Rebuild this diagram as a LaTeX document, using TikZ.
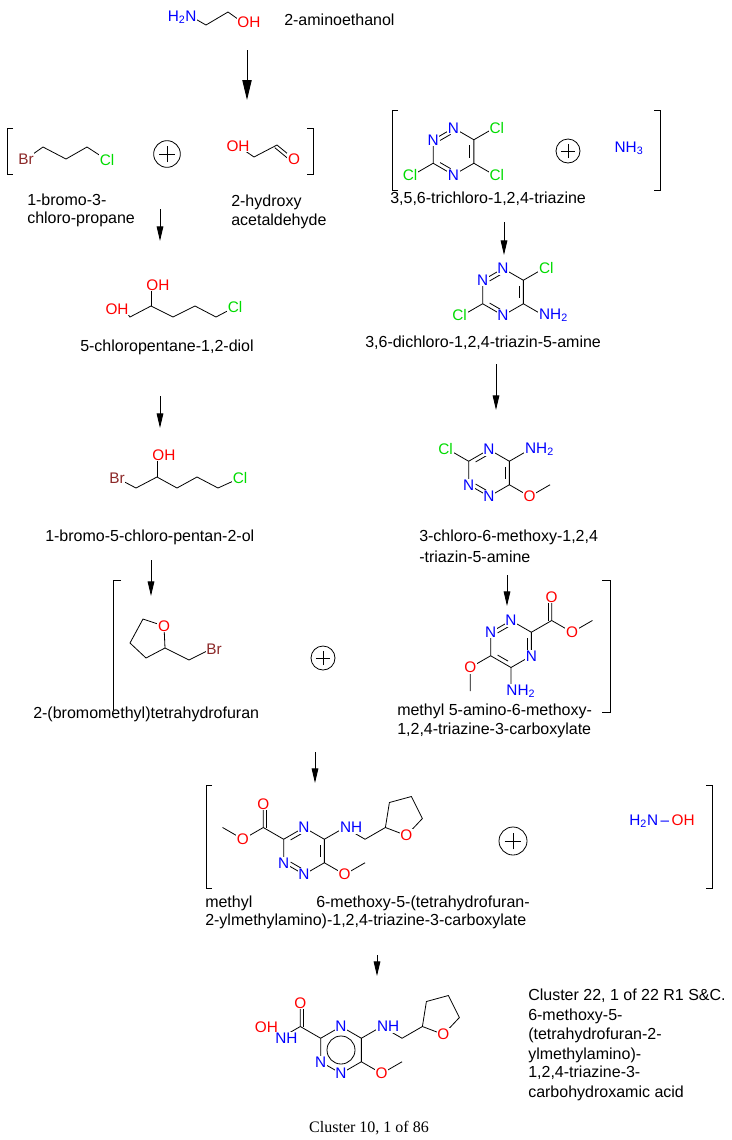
\documentclass[tikz,border=0pt]{standalone}
\usepackage{fontspec}
\setmainfont{Liberation Sans}
\newfontfamily\serifc{Liberation Serif}
\usetikzlibrary{calc,arrows.meta}
\definecolor{nblue}{RGB}{0,0,255}
\definecolor{ored}{RGB}{255,0,0}
\definecolor{clgreen}{RGB}{0,220,0}
\definecolor{brbrown}{RGB}{140,40,40}
\newcommand\hexat[3]{\coordinate (#1c) at (#2,#3);
 \foreach \ii/\ang in {1/-90,2/-30,3/30,4/90,5/150,6/210}{\coordinate (#1\ii) at ($(#1c)+(\ang:23.5)$);}}
\newcommand\dbin[3]{\draw[bond,shorten <=2.5pt,shorten >=2.5pt] ($(#1)!0.2!(#3)$) -- ($(#2)!0.2!(#3)$);}
\newcommand\dbside[2]{\draw[bond] ($(#1)!2.6pt!90:(#2)$) -- ($(#2)!2.6pt!-90:(#1)$);}
\newcommand\hexbonds[1]{\draw[bond] (#11)--(#12)--(#13)--(#14)--(#15)--(#16)--cycle;}
\tikzset{
 bond/.style={line width=0.6pt},
 lab/.style={inner sep=0.6pt,fill=white,font=\fontsize{11.5}{13}\selectfont},
 fst/.style={anchor=west,xshift=-4.2pt},
 lst/.style={anchor=east,xshift=4.2pt},
 Na/.style={lab,text=nblue}, Oa/.style={lab,text=ored},
 Cla/.style={lab,text=clgreen}, Bra/.style={lab,text=brbrown},
 cname/.style={anchor=west,inner sep=0pt,font=\fontsize{12}{14}\selectfont},
 rxn/.style={line width=0.7pt,-{Triangle[length=11pt,width=5pt]}},
 bigrxn/.style={line width=0.7pt,-{Triangle[length=15pt,width=7pt]}},
 brk/.style={line width=0.7pt},
}
\newcommand\oplusat[4]{\node[circle,draw,line width=0.6pt,minimum size=#3,inner sep=0pt] (#4) at (#1,#2) {};
 \draw[line width=0.6pt] ($(#4)+(-0.3*#3,0)$) -- ($(#4)+(0.3*#3,0)$) ($(#4)+(0,-0.3*#3)$) -- ($(#4)+(0,0.3*#3)$);}
\begin{document}
\begin{tikzpicture}[x=0.75pt,y=-0.75pt]
\useasboundingbox (0,0) rectangle (732,1140);
% ---------- 2-aminoethanol
\coordinate (ae1) at (192,17); \coordinate (ae2) at (206,25);
\coordinate (ae3) at (228,12); \coordinate (ae4) at (242,22);
\draw[bond] (ae1)--(ae2)--(ae3)--(ae4);
\node[Na,lst] at (ae1) {H\textsubscript{2}N};
\node[Oa,fst] at (ae4) {OH};
\node[cname] (n1) at (284,20) {2-aminoethanol};
\coordinate (a1s) at (247,50); \coordinate (a1e) at (247,100);
\draw[bigrxn] (a1s) -- (a1e);
% ---------- bracket 1
\draw[brk] (13,128) -- (7,128) -- (7,174) -- (13,174);
\draw[brk] (307,128) -- (313,128) -- (313,174) -- (307,174);
\coordinate (bp0) at (26,159); \coordinate (bp1) at (43,147); \coordinate (bp2) at (66,159);
\coordinate (bp3) at (87,147); \coordinate (bp4) at (107,160);
\draw[bond] (bp0)--(bp1)--(bp2)--(bp3)--(bp4);
\node[Bra] at (bp0) {Br}; \node[Cla] at (bp4) {Cl};
\oplusat{167}{154}{20pt}{op1}
\coordinate (ha0) at (238,146); \coordinate (ha1) at (254,157); \coordinate (ha2) at (277,145); \coordinate (ha3) at (294,159);
\draw[bond] (ha0)--(ha1)--(ha2)--(ha3); \dbside{ha3}{ha2}
\node[Oa] at (ha0) {OH}; \node[Oa] at (ha3) {O};
\node[cname] at (27,200) {1-bromo-3-}; \node[cname] at (27,219) {chloro-propane};
\node[cname] at (231,202) {2-hydroxy}; \node[cname] at (231,221) {acetaldehyde};
\coordinate (a2s) at (160,209); \coordinate (a2e) at (160,241);
\draw[rxn] (a2s) -- (a2e);
% ---------- diol
\coordinate (d0) at (124,309); \coordinate (d1) at (130,317); \coordinate (d2) at (151,306);
\coordinate (d3) at (173,317); \coordinate (d4) at (195,306); \coordinate (d5) at (216,317);
\coordinate (d6) at (235,307); \coordinate (dt) at (151,285);
\draw[bond] (d0)--(d1)--(d2)--(d3)--(d4)--(d5)--(d6); \draw[bond] (d2)--(dt);
\node[Oa,lst] at (d0) {OH}; \node[Oa,fst] at (dt) {OH}; \node[Cla] at (d6) {Cl};
\node[cname] at (80,347) {5-chloropentane-1,2-diol};
\coordinate (a4s) at (160,396); \coordinate (a4e) at (160,428);
\draw[rxn] (a4s) -- (a4e);
% ---------- bromo chloro pentanol
\coordinate (e0) at (117,478); \coordinate (e1) at (136,488); \coordinate (e2) at (157,477);
\coordinate (e3) at (177,488); \coordinate (e4) at (197,477); \coordinate (e5) at (218,488);
\coordinate (e6) at (240,478); \coordinate (et) at (157,455);
\draw[bond] (e0)--(e1)--(e2)--(e3)--(e4)--(e5)--(e6); \draw[bond] (e2)--(et);
\node[Bra] at (e0) {Br}; \node[Cla] at (e6) {Cl}; \node[Oa,fst] at (et) {OH};
\node[cname] at (45,537) {1-bromo-5-chloro-pentan-2-ol};
\coordinate (a6s) at (151,560); \coordinate (a6e) at (151,596);
\draw[rxn] (a6s) -- (a6e);
% ---------- bracket 2
\draw[brk] (398,110) -- (392,110) -- (392,190) -- (398,190);
\draw[brk] (654,110) -- (660,110) -- (660,190) -- (654,190);
\hexat{R}{453.5}{151.5}
\hexbonds{R} \dbin{R4}{R5}{Rc} \dbin{R2}{R3}{Rc} \dbin{R1}{R6}{Rc}
\coordinate (rx2) at ($(R2)+(-30:23.5)$); \coordinate (rx3) at ($(R3)+(30:23.5)$); \coordinate (rx5) at ($(R5)+(150:23.5)$);
\draw[bond] (R2)--(rx2) (R3)--(rx3) (R5)--(rx5);
\node[Na] at (R1) {N}; \node[Na] at (R6) {N}; \node[Na] at (R4) {N};
\node[Cla,fst] at (rx2) {Cl}; \node[Cla,fst] at (rx3) {Cl}; \node[Cla,lst] at (rx5) {Cl};
\oplusat{568}{151}{18pt}{op2}
\node[Na] at (629,148) {NH\textsubscript{3}};
\node[cname] at (390,199) {3,5,6-trichloro-1,2,4-triazine};
\coordinate (a3s) at (504,222); \coordinate (a3e) at (504,255);
\draw[rxn] (a3s) -- (a3e);
% ---------- ring 2
\hexat{S}{503}{292}
\hexbonds{S} \dbin{S4}{S5}{Sc} \dbin{S2}{S3}{Sc} \dbin{S1}{S6}{Sc}
\coordinate (sx2) at ($(S2)+(-30:23.5)$); \coordinate (sx3) at ($(S3)+(30:23.5)$); \coordinate (sx5) at ($(S5)+(150:23.5)$);
\draw[bond] (S2)--(sx2) (S3)--(sx3) (S5)--(sx5);
\node[Na] at (S1) {N}; \node[Na] at (S6) {N}; \node[Na] at (S4) {N};
\node[Cla,fst] at (sx2) {Cl}; \node[Na,fst] at (sx3) {NH\textsubscript{2}}; \node[Cla,lst] at (sx5) {Cl};
\node[cname] at (365,343) {3,6-dichloro-1,2,4-triazin-5-amine};
\coordinate (a5s) at (496,364); \coordinate (a5e) at (496,410);
\draw[rxn] (a5s) -- (a5e);
% ---------- ring 3
\hexat{T}{489}{473}
\hexbonds{T} \dbin{T6}{T1}{Tc} \dbin{T2}{T3}{Tc} \dbin{T4}{T5}{Tc}
\coordinate (tx6) at ($(T6)+(210:23.5)$); \coordinate (tx2) at ($(T2)+(-30:23.5)$);
\coordinate (tx3) at ($(T3)+(30:23.5)$); \coordinate (txm) at ($(tx3)+(-30:23.5)$);
\draw[bond] (T6)--(tx6) (T2)--(tx2) (T3)--(tx3)--(txm);
\node[Na] at (T1) {N}; \node[Na] at (T4) {N}; \node[Na] at (T5) {N};
\node[Cla,lst] at (tx6) {Cl}; \node[Na,fst] at (tx2) {NH\textsubscript{2}}; \node[Oa] at (tx3) {O};
\node[cname] at (419,537) {3-chloro-6-methoxy-1,2,4}; \node[cname] at (419,557) {-triazin-5-amine};
\coordinate (a7s) at (507,575); \coordinate (a7e) at (507,606);
\draw[rxn] (a7s) -- (a7e);
% ---------- bracket 3
\draw[brk] (121,580) -- (113,580) -- (113,710);
\draw[brk] (602,580) -- (610,580) -- (610,712) -- (602,712);
\coordinate (f1) at (143,619); \coordinate (fO) at (164,626); \coordinate (f2) at (165,648);
\coordinate (f3) at (146,658); \coordinate (f4) at (130,643); \coordinate (fch) at (189,660); \coordinate (fbr) at (211,649);
\draw[bond] (f1)--(fO)--(f2)--(f3)--(f4)--cycle; \draw[bond] (f2)--(fch)--(fbr);
\node[Oa] at (fO) {O}; \node[Bra,fst] at (fbr) {Br};
\node[cname] at (33,714) {2-(bromomethyl)tetrahydrofuran};
\oplusat{323}{658}{18pt}{op3}
\hexat{U}{511}{644}
\hexbonds{U} \dbin{U1}{U6}{Uc} \dbin{U2}{U3}{Uc} \dbin{U4}{U5}{Uc}
\coordinate (uc) at ($(U2)+(-30:23.5)$); \coordinate (uo1) at ($(uc)+(-90:23.5)$);
\coordinate (uo2) at ($(uc)+(30:23.5)$); \coordinate (um) at ($(uo2)+(-30:23.5)$);
\coordinate (uo3) at ($(U5)+(150:23.5)$); \coordinate (um2) at ($(uo3)+(90:23.5)$);
\coordinate (un) at ($(U4)+(90:23.5)$);
\draw[bond] (U2)--(uc)--(uo1) (uc)--(uo2)--(um) (U5)--(uo3)--(um2) (U4)--(un);
\dbside{uc}{uo1}
\node[Na] at (U1) {N}; \node[Na] at (U6) {N}; \node[Na] at (U3) {N};
\node[Oa] at (uo1) {O}; \node[Oa] at (uo2) {O}; \node[Oa] at (uo3) {O};
\node[Na,fst] at (un) {NH\textsubscript{2}};
\node[cname] at (397,711) {methyl 5-amino-6-methoxy-}; \node[cname] at (397,730) {1,2,4-triazine-3-carboxylate};
\coordinate (a8s) at (315,752); \coordinate (a8e) at (315,783);
\draw[rxn] (a8s) -- (a8e);
% ---------- bracket 4
\draw[brk] (212,785) -- (206,785) -- (206,888) -- (212,888);
\draw[brk] (706,785) -- (712,785) -- (712,888) -- (706,888);
\hexat{V}{304}{851}
\hexbonds{V} \dbin{V6}{V1}{Vc} \dbin{V2}{V3}{Vc} \dbin{V4}{V5}{Vc}
\coordinate (vc) at ($(V6)+(210:23.5)$); \coordinate (vo1) at ($(vc)+(-90:23.5)$);
\coordinate (vo2) at ($(vc)+(150:23.5)$); \coordinate (vm) at ($(vo2)+(210:23.5)$);
\coordinate (vn) at ($(V2)+(-30:23.5)$); \coordinate (vch) at ($(vn)+(30:23.5)$);
\coordinate (vt) at ($(vch)+(-30:23.5)$);
\coordinate (vt2) at ($(vt)+(4,-25)$); \coordinate (vt3) at ($(vt)+(26,-31)$);
\coordinate (vt4) at ($(vt)+(37,-9)$); \coordinate (vtO) at ($(vt)+(21,8)$);
\coordinate (vo3) at ($(V3)+(30:23.5)$); \coordinate (vm2) at ($(vo3)+(-30:23.5)$);
\draw[bond] (V6)--(vc)--(vo1) (vc)--(vo2)--(vm) (V2)--(vn)--(vch)--(vt) (V3)--(vo3)--(vm2);
\draw[bond] (vt)--(vt2)--(vt3)--(vt4)--(vtO)--cycle;
\dbside{vo1}{vc}
\node[Na] at (V1) {N}; \node[Na] at (V4) {N}; \node[Na] at (V5) {N};
\node[Oa] at (vo1) {O}; \node[Oa] at (vo2) {O}; \node[Oa] at (vo3) {O}; \node[Oa] at (vtO) {O};
\node[Na,fst] at (vn) {NH};
\oplusat{513}{841}{21pt}{op4}
\node[lab,text=nblue] (hy) at (662,821) {H\textsubscript{2}N\,\textendash\,\textcolor{ored}{OH}};
\node[cname] at (205,903) {methyl}; \node[cname] at (316,903) {6-methoxy-5-(tetrahydrofuran-};
\node[cname] at (205,921) {2-ylmethylamino)-1,2,4-triazine-3-carboxylate};
\coordinate (a9s) at (377,955); \coordinate (a9e) at (377,976);
\draw[rxn] (a9s) -- (a9e);
% ---------- product
\hexat{W}{341}{1050}
\hexbonds{W}
\draw[bond] (Wc) circle[radius=14];
\coordinate (wc) at ($(W6)+(210:23.5)$); \coordinate (wo1) at ($(wc)+(-90:23.5)$);
\coordinate (wnh) at ($(wc)+(150:23.5)$);
\coordinate (wn) at ($(W2)+(-30:23.5)$); \coordinate (wch) at ($(wn)+(30:23.5)$);
\coordinate (wt) at ($(wch)+(-30:23.5)$);
\coordinate (wt2) at ($(wt)+(4,-25)$); \coordinate (wt3) at ($(wt)+(26,-31)$);
\coordinate (wt4) at ($(wt)+(37,-9)$); \coordinate (wtO) at ($(wt)+(21,8)$);
\coordinate (wo3) at ($(W3)+(30:23.5)$); \coordinate (wm2) at ($(wo3)+(-30:23.5)$);
\draw[bond] (W6)--(wc)--(wo1) (wc)--(wnh) (W2)--(wn)--(wch)--(wt) (W3)--(wo3)--(wm2);
\draw[bond] (wt)--(wt2)--(wt3)--(wt4)--(wtO)--cycle;
\dbside{wo1}{wc}
\node[Na] at (W1) {N}; \node[Na] at (W4) {N}; \node[Na] at (W5) {N};
\node[Oa] at (wo1) {O}; \node[Oa] at (wo3) {O}; \node[Oa] at (wtO) {O};
\node[Na,fst] at (wnh) {NH};
\node[lab,text=ored,fill=none,anchor=east] at (279,1027) {OH};
\node[Na,fst] at (wn) {NH};
\node[cname] (c1) at (528,996) {Cluster 22, 1 of 22 R1 S\&C.};
\node[cname] (c2) at (528,1016) {6-methoxy-5-};
\node[cname] (c3) at (528,1035) {(tetrahydrofuran-2-};
\node[cname] (c4) at (528,1055) {ylmethylamino)-};
\node[cname] (c5) at (528,1073) {1,2,4-triazine-3-};
\node[cname] (c6) at (528,1093) {carbohydroxamic acid};
\node[inner sep=0pt,font=\serifc\fontsize{12}{14}\selectfont] (cap) at (369,1128) {Cluster 10, 1 of 86};
\end{tikzpicture}
\end{document}
